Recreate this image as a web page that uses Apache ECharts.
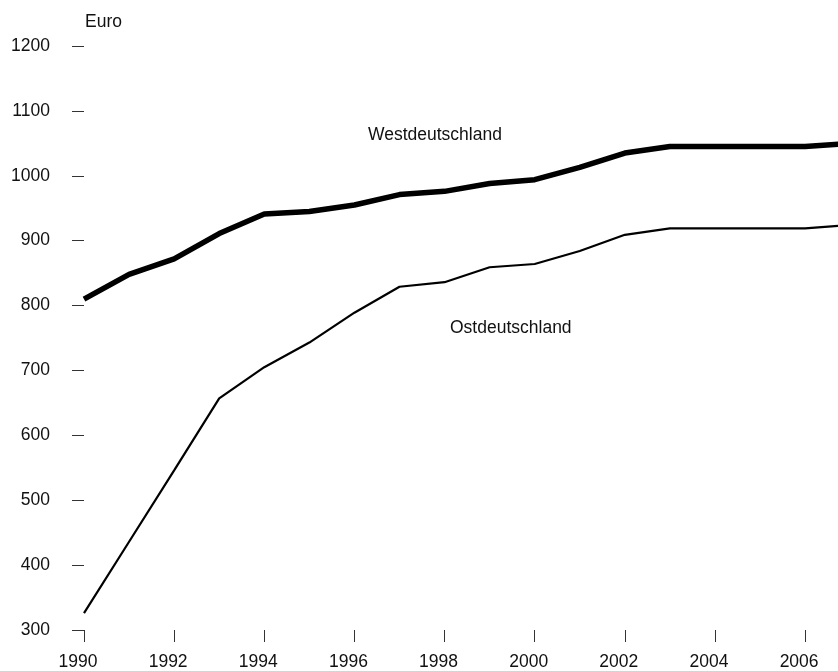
<!DOCTYPE html>
<html>
<head>
<meta charset="utf-8">
<script src="https://cdn.jsdelivr.net/npm/echarts@6/dist/echarts.min.js"></script>
<style>
html,body{margin:0;padding:0;background:#fff;}
#chart{width:838px;height:671px;}
</style>
</head>
<body>
<div id="chart"></div>
<script>
const years = [1990,1991,1992,1993,1994,1995,1996,1997,1998,1999,2000,2001,2002,2003,2004,2005,2006,2007];
const west = [810,848,872,911,941,945,955,971,976,988,994,1013,1035,1045,1045,1045,1045,1050];
const east = [326,436,546,657,705,743,789,829,836,859,864,884,909,919,919,919,919,924];
const yTicks = [300,400,500,600,700,800,900,1000,1100,1200];
const xTicks = [1990,1992,1994,1996,1998,2000,2002,2004,2006];
const seriesNames = ['Westdeutschland','Ostdeutschland'];
const unitLabel = 'Euro';

const FONT = '"Liberation Sans",Arial,sans-serif';
const FS = 17.5;
const chart = echarts.init(document.getElementById('chart'), null, {renderer:'canvas'});

const option = {
  animation:false,
  backgroundColor:'#fff',
  grid:{left:84, right:0, top:46, bottom:40, containLabel:false},
  xAxis:{
    type:'value', min:1990, max:2006.73,
    axisLine:{show:false},
    splitLine:{show:false},
    axisTick:{show:true, inside:false, length:12, customValues:xTicks, lineStyle:{color:'#333', width:1}},
    axisLabel:{
      show:true, margin:23, customValues:xTicks,
      fontFamily:FONT, fontSize:FS, color:'#111',
      padding:[0,12,0,0],
      formatter:v => String(v)
    }
  },
  yAxis:{
    type:'value', min:yTicks[0], max:yTicks[yTicks.length-1], interval:100,
    name:unitLabel, nameLocation:'end', nameGap:24,
    nameTextStyle:{fontFamily:FONT, fontSize:FS, color:'#111', align:'left', verticalAlign:'middle', padding:[0,0,0,1]},
    axisLine:{show:false},
    splitLine:{show:false},
    axisTick:{show:true, inside:false, length:12, lineStyle:{color:'#333', width:1}},
    axisLabel:{margin:34, fontFamily:FONT, fontSize:FS, color:'#111', padding:[0,0,4,0], formatter:v => String(v)}
  },
  graphic:[
    {type:'text', left:368, top:126, style:{text:seriesNames[0], font:FS+'px '+FONT, fill:'#111'}},
    {type:'text', left:450, top:319, style:{text:seriesNames[1], font:FS+'px '+FONT, fill:'#111'}}
  ],
  series:[
    {name:seriesNames[0], type:'line', data:years.map((y,i)=>[y,west[i]]), showSymbol:false, symbol:'none',
     lineStyle:{color:'#000', width:5.5, join:'round'}, clip:true},
    {name:seriesNames[1], type:'line', data:years.map((y,i)=>[y,east[i]]), showSymbol:false, symbol:'none',
     lineStyle:{color:'#000', width:2.2}, clip:true}
  ]
};
chart.setOption(option);
</script>
</body>
</html>
